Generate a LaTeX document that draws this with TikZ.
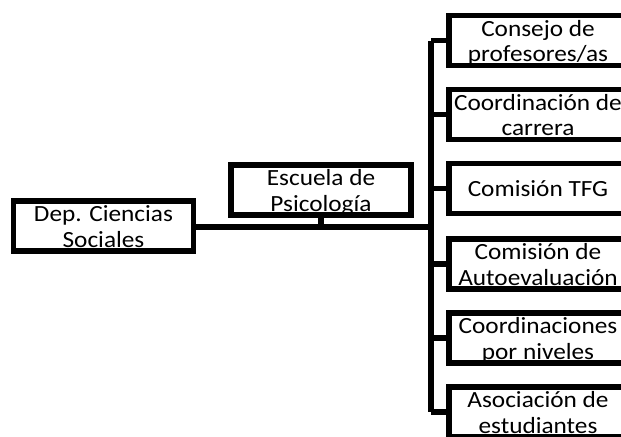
\documentclass[tikz,border=0pt]{standalone}
\usepackage{fontspec}
\setmainfont{Carlito}[FakeStretch=1.09]
\usetikzlibrary{positioning}
% struts for first and last text lines
\newcommand{\bs}{\rule{0pt}{13pt}}
\newcommand{\be}{\rule[-3.4pt]{0pt}{0pt}}
\tikzstyle{orgbox}=[draw=black,line width=1.15mm,rectangle,align=center,minimum width=3.6cm,minimum height=1.0cm,inner xsep=0pt,inner ysep=-1.2pt,font=\fontsize{13.2}{14.4}\selectfont]
\tikzstyle{subbox}=[orgbox,minimum width=3.56cm]
\tikzstyle{orgline}=[draw=black,line width=1.15mm]

\begin{document}
\begin{tikzpicture}[x=0.02cm,y=-0.02cm]
  \useasboundingbox (0,0) rectangle (621,436);
  \node[orgbox] (dep) at (103.5,226) {\bs Dep. Ciencias\\Sociales\be};
  \node[orgbox] (esc) at (321,190) {\bs Escuela de\\Psicología\be};
  \node[subbox] (c1) at (538,40.5) {\bs Consejo de\\profesores/as\be};
  \node[subbox] (c2) at (538,114.5) {\bs Coordinación de\\carrera\be};
  \node[subbox] (c3) at (538,188.5) {Comisión TFG};
  \node[subbox] (c4) at (538,264) {\bs Comisión de\\Autoevaluación\be};
  \node[subbox] (c5) at (538,338) {\bs Coordinaciones\\por niveles\be};
  \node[subbox] (c6) at (538,412) {\bs Asociación de\\estudiantes\be};
  \coordinate (trunk) at (431,227);

  \draw[orgline] (dep.east |- trunk) -- (trunk);
  \draw[orgline] (esc.south) -- (esc.south |- trunk);
  \draw[orgline] (c1.west -| trunk) -- (c6.west -| trunk);
  \foreach \i in {1,...,6}
    \draw[orgline] (c\i.west) -- (c\i.west -| trunk);
\end{tikzpicture}
\end{document}
